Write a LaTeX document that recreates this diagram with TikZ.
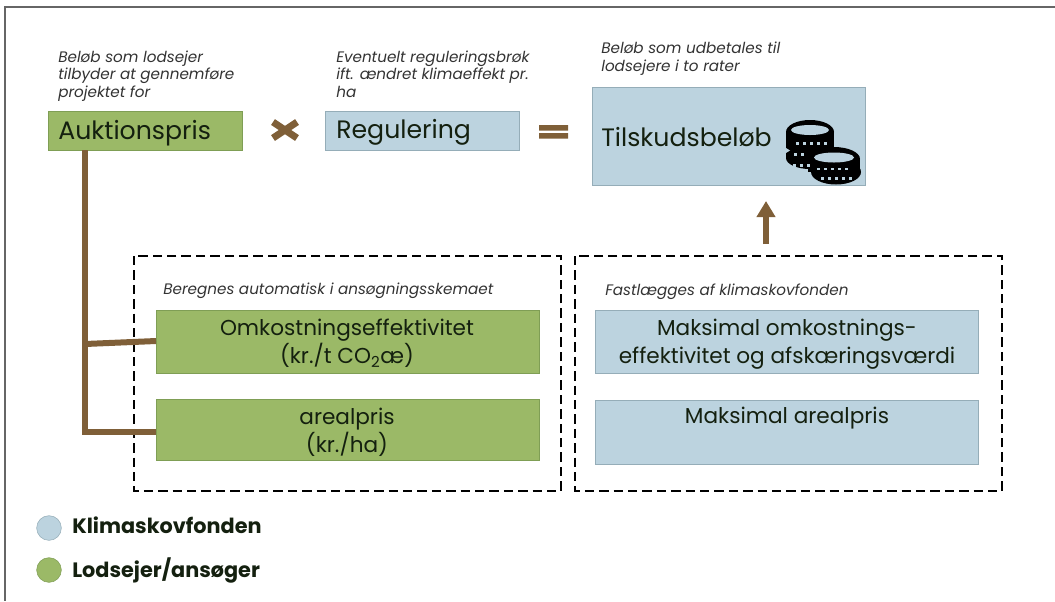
\documentclass[tikz,border=0pt]{standalone}
\usepackage{fontspec}
\setmainfont{Poppins}
\usetikzlibrary{arrows.meta}
\definecolor{leaf}{HTML}{9BB967}
\definecolor{leafline}{HTML}{7F9E55}
\definecolor{sky}{HTML}{BCD3DF}
\definecolor{skyline}{HTML}{95ADB8}
\definecolor{bark}{HTML}{7F5F38}
\definecolor{ink}{HTML}{14200F}
\tikzset{
  leafbox/.style = {shape=rectangle, draw=leafline, fill=leaf, text=ink, align=center, inner sep=0pt},
  skybox/.style = {shape=rectangle, draw=skyline, fill=sky, text=ink, align=center, inner sep=0pt},
  note/.style = {anchor=north west, align=left, inner sep=0pt, text=black!80, font=\fontsize{11.4}{13.2}\selectfont\itshape},
  bigtext/.style = {font=\fontsize{18.9}{22}\selectfont},
  midtext/.style = {font=\fontsize{16.2}{20.8}\selectfont},
  dashbox/.style = {draw, line width=1pt, dash pattern=on 7pt off 3.8pt},
  legend/.style = {anchor=west, inner sep=0pt, text=ink, font=\fontsize{15.6}{18}\selectfont\bfseries},
  dot/.style = {shape=circle, minimum size=18.5pt, inner sep=0pt},
  trunk/.style = {draw=bark, line width=4.5pt},
  coin/.style = {fill=sky}
}
\begin{document}
\begin{tikzpicture}[x=0.75pt, y=-0.75pt]
  \useasboundingbox (0,0) rectangle (1055,601);
  \draw[black!60, line width=0.9pt] (1055,7) -- (5,7) -- (5,601);

  % dashed frames first, so that the lines run over them
  \draw[dashbox] (134,256) rectangle (561,491);
  \draw[dashbox] (575,256) rectangle (1002,491);

  \node[leafbox, minimum width=145.5pt, minimum height=29.5pt] (auktion) at (145,130.5) {};
  \node[ink, bigtext, anchor=west, inner sep=0pt] (auktiontxt) at (58,133) {Auktionspris};
  \node[skybox, minimum width=145.5pt, minimum height=29.5pt] (regulering) at (422.5,130.5) {};
  \node[ink, bigtext, anchor=west, inner sep=0pt] (reguleringtxt) at (336,132) {Regulering};
  \node[skybox, minimum width=205pt, minimum height=73.5pt] (tilskud) at (729,136.5) {};
  \node[ink, bigtext, anchor=west, inner sep=0pt] (tilskudtxt) at (601,137) {Tilskudsbeløb};

  \node[note] (noteauktion) at (58,50.5) {Beløb som lodsejer\\tilbyder at gennemføre\\projektet for};
  \node[note] (noteregulering) at (336,50.5) {Eventuelt reguleringsbrøk\\ift. ændret klimaeffekt pr.\\ha};
  \node[note] (notetilskud) at (601,42) {Beløb som udbetales til\\lodsejere i to rater};
  \node[note] (noteberegn) at (163,283) {Beregnes automatisk i ansøgningsskemaet};
  \node[note] (notefast) at (605,284) {Fastlægges af klimaskovfonden};

  \node[leafbox, minimum width=287pt, minimum height=47pt] (omkost) at (347.5,342) {};
  \node[ink, midtext, align=center, inner sep=0pt] (omkosttxt) at (347,343.5) {Omkostningseffektivitet\\(kr./t CO\textsubscript{2}æ)};
  \node[leafbox, minimum width=287pt, minimum height=46pt] (areal) at (347.5,430) {};
  \node[ink, midtext, align=center, inner sep=0pt] (arealtxt) at (347,432) {arealpris\\(kr./ha)};
  \node[skybox, minimum width=287pt, minimum height=47pt] (maksomk) at (787,342) {};
  \node[ink, midtext, align=center, inner sep=0pt] (maksomktxt) at (787,344) {Maksimal omkostnings-\\effektivitet og afskæringsværdi};
  \node[skybox, minimum width=287pt, minimum height=48pt] (maksareal) at (787,432) {};
  \node[ink, midtext, inner sep=0pt] (maksarealtxt) at (787,418) {Maksimal arealpris};

  \node[dot, fill=sky, draw=skyline] (dotsky) at (49,528) {};
  \node[legend] (legendsky) at (72,525) {Klimaskovfonden};
  \node[dot, fill=leaf, draw=leafline] (dotleaf) at (49,570) {};
  \node[legend] (legendleaf) at (72,570) {Lodsejer/ansøger};

  % connectors
  \coordinate (knee) at (85,432);
  \coordinate (branch) at (85,344);
  \draw[trunk, line join=miter] (auktion.south -| knee) -- (knee) -- (knee -| areal.west);
  \draw[trunk] (branch) -- (156,341);
  \coordinate (arrowfoot) at (766,244);
  \coordinate (arrowtip) at (766,201);
  \draw[bark, line width=4.2pt, -{Triangle[width=13.5pt, length=12pt]}] (arrowfoot) -- (arrowtip);

  % times and equals
  \draw[bark, line width=5.2pt] (273,122) -- (297,138) (273,138) -- (297,122);
  \fill[bark] (539,125) rectangle (568,130.5) (539,133) rectangle (568,138.5);

  % coins
  \fill[black] (810,132) ellipse [x radius=24, y radius=12];
  \fill[black] (786,132) rectangle (834,158);
  \fill[black] (810,158) ellipse [x radius=24, y radius=11];
  \fill[coin] (810,130) ellipse [x radius=19, y radius=5];
  \fill[black] (834,159) ellipse [x radius=26, y radius=12];
  \fill[black] (808,159) rectangle (860,172);
  \fill[black] (836,172) ellipse [x radius=25, y radius=12.5];
  \fill[coin] (834,157.5) ellipse [x radius=20, y radius=5];
  \fill[coin] (786,148) -- (790,150.5) -- (786,153) -- cycle;
  \foreach \xpos in {796,803,810,817,824} { \fill[coin] (\xpos,142) rectangle ++(2.6,2.8); }
  \foreach \xpos in {794,801} { \fill[coin] (\xpos,153) rectangle ++(2.6,2.8); }
  \foreach \xpos in {793,800,807} { \fill[coin] (\xpos,164) rectangle ++(2.6,2.8); }
  \foreach \xpos in {817,824,831,838,845} { \fill[coin] (\xpos,167.5) rectangle ++(2.6,2.8); }
  \foreach \xpos in {821,828,835,842,849} { \fill[coin] (\xpos,177) rectangle ++(2.6,2.8); }
\end{tikzpicture}
\end{document}
